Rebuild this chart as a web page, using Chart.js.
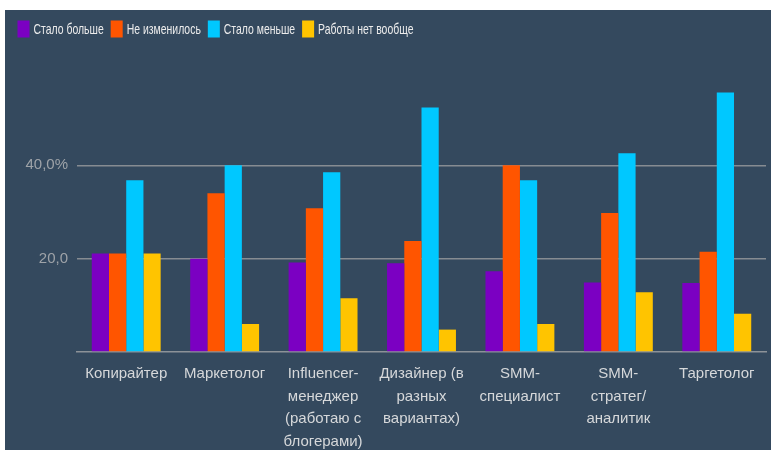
<!DOCTYPE html>
<html>
<head>
<meta charset="utf-8">
<script src="https://cdn.jsdelivr.net/npm/chart.js@4"></script>
<style>
    body { margin: 0; background: #ffffff; }
    #box { position: absolute; left: 5px; top: 10px; width: 766px; height: 440px; background: #34495e; }
</style>
</head>
<body>
<div id="box"><canvas id="grafico" width="766" height="440"></canvas></div>
<script>
const categorias = [
    'Копирайтер',
    'Маркетолог',
    ['Influencer-', 'менеджер', '(работаю с', 'блогерами)'],
    ['Дизайнер (в', 'разных', 'вариантах)'],
    ['SMM-', 'специалист'],
    ['SMM-', 'стратег/', 'аналитик'],
    'Таргетолог'
];
const staloBolshe = [21.1, 20.0, 19.2, 19.0, 17.3, 14.9, 14.8];
const neIzmenilos = [21.1, 34.0, 30.8, 23.8, 40.0, 29.8, 21.5];
const staloMenshe = [36.8, 40.0, 38.5, 52.4, 36.8, 42.6, 55.6];
const rabotyNet = [21.1, 6.0, 11.5, 4.8, 6.0, 12.8, 8.2];
const yTicks = { 20: '20,0', 40: '40,0%' };

const grafico = document.getElementById('grafico');

// legenda estreita (fonte condensada), desenhada a mao
let legendaEstreita = {
    id: 'legendaEstreita',
    afterDraw: (chart) => {
        const ctx = chart.ctx;
        ctx.save();
        ctx.font = "14.5px 'Liberation Sans', Arial, sans-serif";
        ctx.textBaseline = 'middle';
        let x = 12.5;
        chart.data.datasets.forEach((ds) => {
            ctx.fillStyle = ds.backgroundColor;
            ctx.fillRect(x, 10.5, 12, 17);
            x += 16;
            const w = ctx.measureText(ds.label).width * 0.72;
            ctx.save();
            ctx.translate(x, 19.5);
            ctx.scale(0.72, 1);
            ctx.fillStyle = '#ececec';
            ctx.fillText(ds.label, 0, 0);
            ctx.restore();
            x += w + 7;
        });
        ctx.restore();
    }
};

new Chart(grafico, {
    type: 'bar',
    data: {
        labels: categorias,
        datasets: [
            { label: 'Стало больше', data: staloBolshe, backgroundColor: '#7b00c2' },
            { label: 'Не изменилось', data: neIzmenilos, backgroundColor: '#ff5500' },
            { label: 'Стало меньше', data: staloMenshe, backgroundColor: '#00c8ff' },
            { label: 'Работы нет вообще', data: rabotyNet, backgroundColor: '#ffc400' }
        ]
    },
    options: {
        responsive: false,
        animation: false,
        devicePixelRatio: 1,
        layout: { padding: { top: 62, left: 7, right: 5, bottom: 0 } },
        datasets: { bar: { categoryPercentage: 0.7, barPercentage: 1.0, borderWidth: 0 } },
        plugins: {
            tooltip: { enabled: false },
            legend: { display: false }
        },
        scales: {
            x: {
                grid: { display: false },
                border: { display: true, color: '#8c9298', width: 1.5 },
                ticks: {
                    color: '#d6d8da',
                    padding: 3,
                    maxRotation: 0,
                    autoSkip: false,
                    font: { family: "'Liberation Sans', Arial, sans-serif", size: 15, lineHeight: 1.5 }
                },
                afterFit: (scale) => { scale.height = 98; }
            },
            y: {
                min: 0,
                max: 60,
                border: { display: false },
                grid: {
                    drawTicks: false,
                    lineWidth: 1.5,
                    color: (ctx) => (ctx.tick && (ctx.tick.value === 20 || ctx.tick.value === 40)) ? '#868c92' : 'transparent'
                },
                ticks: {
                    stepSize: 20,
                    padding: 9,
                    color: '#9ea3a8',
                    font: { family: "'Liberation Sans', Arial, sans-serif", size: 15 },
                    callback: (value) => yTicks[value] || ''
                },
                afterFit: (scale) => { scale.width = 65; }
            }
        }
    },
    plugins: [legendaEstreita]
});
</script>
</body>
</html>
